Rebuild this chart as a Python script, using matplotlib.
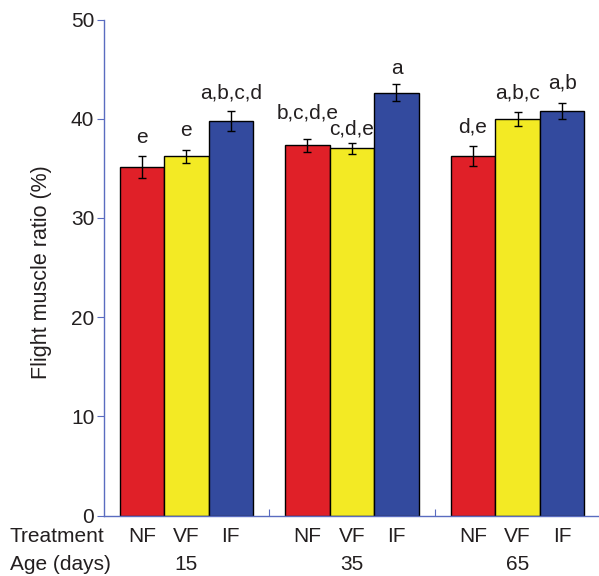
import numpy as np
import matplotlib.pyplot as plt
import matplotlib.transforms as mtransforms

plt.rcParams['font.family'] = ['Liberation Sans', 'DejaVu Sans']

# data
ages = ['15', '35', '65']
treatments = ['NF', 'VF', 'IF']
ratio = [[35.1, 36.2, 39.8],
         [37.3, 37.0, 42.6],
         [36.2, 40.0, 40.8]]
err = [[1.1, 0.65, 1.0],
       [0.7, 0.6, 0.85],
       [1.0, 0.7, 0.8]]
letters = [['e', 'e', 'a,b,c,d'],
           ['b,c,d,e', 'c,d,e', 'a'],
           ['d,e', 'a,b,c', 'a,b']]
# gap between error bar top and letter baseline
lift = [[1.4, 1.4, 1.2],
        [2.05, 0.8, 1.1],
        [1.4, 1.35, 1.45]]

colors = ['#e02028', '#f3ea24', '#334a9e']
axis_col = '#5a6cc0'
txt_col = '#231f20'
fs = 15
gstep = 3.72

fig = plt.figure(figsize=(5.99, 5.76), dpi=100)
ax = fig.add_axes([0.1736, 1 - 515.5 / 576, 0.8264, 496 / 576])

for g in range(3):
    for j in range(3):
        x = g * gstep + j
        ax.bar(x, ratio[g][j], width=1.0, color=colors[j], edgecolor='black',
               linewidth=1.0, zorder=2)
        ax.errorbar(x, ratio[g][j], yerr=err[g][j], fmt='none', ecolor='black',
                    elinewidth=1.0, capsize=2.6, capthick=1.0, zorder=3)
        ax.text(x, ratio[g][j] + err[g][j] + lift[g][j], letters[g][j],
                ha='center', va='baseline', fontsize=fs, color=txt_col)

ax.set_xlim(-0.85, 2 * gstep + 2 + 0.83)
ax.set_ylim(0, 50)
ax.set_yticks(np.arange(0, 51, 10))
ax.tick_params(axis='y', direction='out', length=5, color=axis_col,
               labelsize=fs, labelcolor=txt_col, pad=2)
ax.set_xticks([2 + (gstep - 2) / 2, gstep + 2 + (gstep - 2) / 2])
ax.tick_params(axis='x', direction='in', length=5, color=axis_col,
               labelbottom=False)
for s in ['top', 'right']:
    ax.spines[s].set_visible(False)
for s in ['left', 'bottom']:
    ax.spines[s].set_color(axis_col)
    ax.spines[s].set_linewidth(1.0)

fig.text(42 / 599, 1 - 272 / 576, 'Flight muscle ratio (%)', rotation=90,
         ha='center', va='center', fontsize=15.5, color=txt_col)

trans = mtransforms.blended_transform_factory(ax.transData, fig.transFigure)
for g in range(3):
    for j in range(3):
        x = g * gstep + j
        ax.text(x, 1 - 542 / 576, treatments[j], transform=trans, ha='center',
                va='baseline', fontsize=fs, color=txt_col)
    ax.text(g * gstep + 1, 1 - 570 / 576, ages[g], transform=trans, ha='center',
            va='baseline', fontsize=fs, color=txt_col)
fig.text(10 / 599, 1 - 542 / 576, 'Treatment', ha='left', va='baseline',
         fontsize=fs, color=txt_col)
fig.text(10 / 599, 1 - 570 / 576, 'Age (days)', ha='left', va='baseline',
         fontsize=fs, color=txt_col)

fig.savefig('out.png', dpi=100)
